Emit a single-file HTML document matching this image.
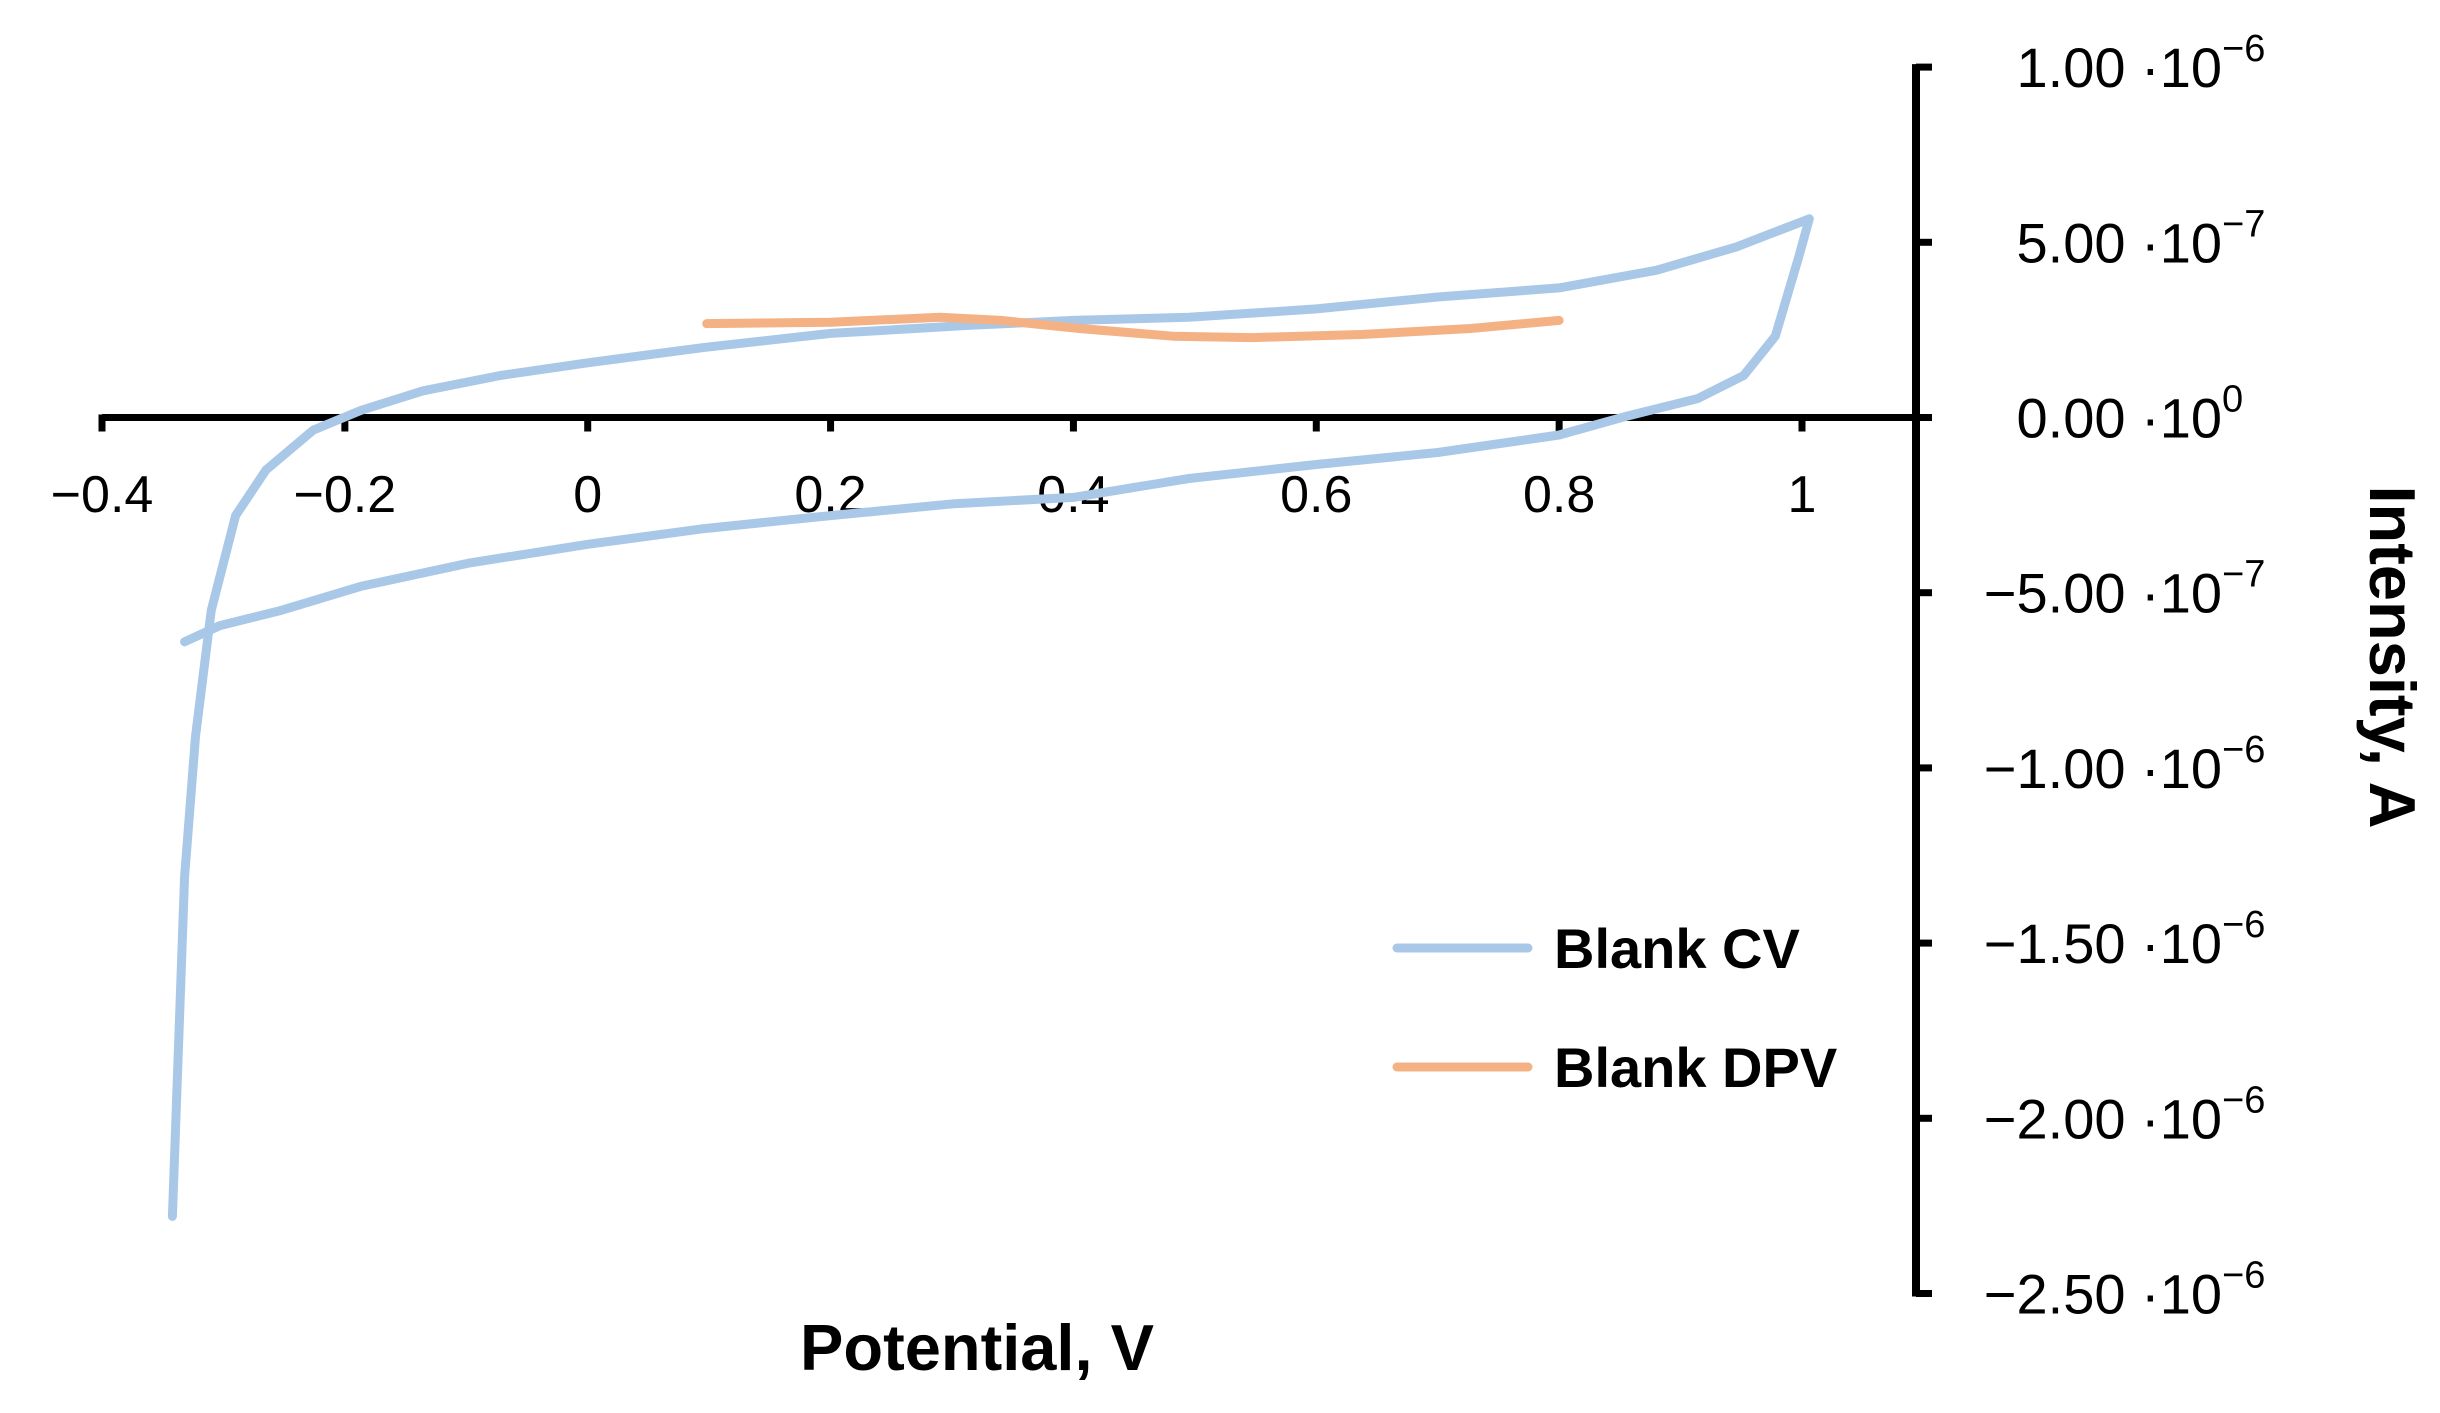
<!DOCTYPE html>
<html><head><meta charset="utf-8"><style>
html,body{margin:0;padding:0;background:#fff;}
svg text{font-family:"Liberation Sans",sans-serif;}
</style></head><body>
<svg id="chart" width="2440" height="1408" viewBox="0 0 2440 1408" xmlns="http://www.w3.org/2000/svg">
<g id="axes"></g><g id="series"></g>
<g>
 <line x1="1397" y1="948" x2="1528" y2="948" stroke="#a9c8e8" stroke-width="9" stroke-linecap="round"/>
 <text x="1554" y="968" font-size="56" font-weight="bold">Blank CV</text>
 <line x1="1397" y1="1067" x2="1528" y2="1067" stroke="#f4b183" stroke-width="9" stroke-linecap="round"/>
 <text x="1554" y="1087" font-size="56" font-weight="bold">Blank DPV</text>
</g>
<text x="977" y="1370" font-size="65" font-weight="bold" text-anchor="middle">Potential, V</text>
<text transform="translate(2370,657) rotate(90)" font-size="65" font-weight="bold" text-anchor="middle">Intensity, A</text>
</svg>
<script>
const xTicks=[-0.4,-0.2,0,0.2,0.4,0.6,0.8,1];
const xTickLabels=["\u22120.4","\u22120.2","0","0.2","0.4","0.6","0.8","1"];
const yTicks=[1e-6,5e-7,0,-5e-7,-1e-6,-1.5e-6,-2e-6,-2.5e-6];
const yTickMant=["1.00","5.00","0.00","\u22125.00","\u22121.00","\u22121.50","\u22122.00","\u22122.50"];
const yTickExp=["\u22126","\u22127","0","\u22127","\u22126","\u22126","\u22126","\u22126"];
const cvV=[-0.342,-0.332,-0.323,-0.31,-0.29,-0.265,-0.226,-0.187,-0.136,-0.072,0,0.096,0.2,0.315,0.4,0.495,0.6,0.7,0.8,0.88,0.946,1.006,0.997,0.978,0.952,0.914,0.856,0.8,0.7,0.6,0.495,0.4,0.302,0.2,0.096,0,-0.097,-0.187,-0.252,-0.303,-0.332];
const cvI=[-2.28,-1.31,-0.91,-0.55,-0.28,-0.15,-0.036,0.02,0.076,0.12,0.156,0.2,0.24,0.263,0.277,0.286,0.31,0.344,0.37,0.42,0.487,0.567,0.455,0.232,0.12,0.054,0.004,-0.05,-0.1,-0.134,-0.174,-0.228,-0.246,-0.28,-0.317,-0.362,-0.415,-0.482,-0.55,-0.594,-0.64];
const dpvV=[0.098,0.2,0.29,0.34,0.405,0.482,0.547,0.637,0.727,0.8];
const dpvI=[0.268,0.272,0.286,0.277,0.254,0.232,0.228,0.237,0.254,0.277];
const NS="http://www.w3.org/2000/svg";
const AX=1916;
function xS(v){return 102+(v+0.4)*(1700/1.4);}
function yS(i){return 417.5-i*(350.4/1e-6);}
const axes=document.getElementById('axes');
function mk(t,a,p){const e=document.createElementNS(NS,t);for(const k in a)e.setAttribute(k,a[k]);p.appendChild(e);return e;}
const xa=mk('line',{x1:xS(-0.4),y1:yS(0),x2:AX,y2:yS(0),stroke:'#000','stroke-width':7},axes);


const ya=mk('line',{x1:AX,y1:yS(1e-6)-3,x2:AX,y2:yS(-2.5e-6)+3,stroke:'#000','stroke-width':8},axes);


xTicks.forEach((v,k)=>{
 const t=mk('line',{x1:xS(v),y1:yS(0)-3,x2:xS(v),y2:yS(0)+14,stroke:'#000','stroke-width':7},axes);
 
 
 const l=mk('text',{x:xS(v),y:512,'font-size':52,'text-anchor':'middle'},axes);
 l.textContent=xTickLabels[k];
 
 
});
yTicks.forEach((v,k)=>{
 const t=mk('line',{x1:AX,y1:yS(v),x2:AX+16,y2:yS(v),stroke:'#000','stroke-width':7},axes);
 
 
 const l=mk('text',{x:2222,y:yS(v)+20,'font-size':56,'text-anchor':'end'},axes);
 l.textContent=yTickMant[k]+" \u00b710";
 
 
 const s=mk('text',{x:2222,y:yS(v)-6,'font-size':38},axes);
 s.textContent=yTickExp[k];
 
 
});
const ser=document.getElementById('series');
function path(V,I){return V.map((v,k)=>(k?'L':'M')+xS(v).toFixed(1)+','+yS(I[k]*1e-6).toFixed(1)).join('');}
const cv=mk('path',{d:path(cvV,cvI),fill:'none',stroke:'#a9c8e8','stroke-width':9,'stroke-linejoin':'round','stroke-linecap':'round'},ser);


const dp=mk('path',{d:path(dpvV,dpvI),fill:'none',stroke:'#f4b183','stroke-width':9,'stroke-linejoin':'round','stroke-linecap':'round'},ser);


</script>
</body></html>
